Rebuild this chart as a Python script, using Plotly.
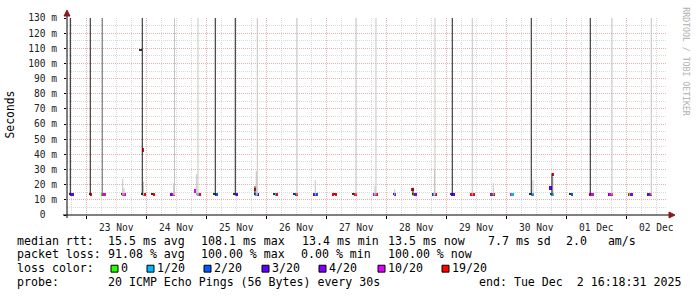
import plotly.graph_objects as go
from datetime import datetime, timedelta

# ---------------- data ----------------
START = "2025-11-22 16:18:31"
END = "2025-12-02 16:18:31"

# one entry per sampling burst: time of first column, median rtt (ms), loss codes per column
# loss codes: 0 -> 0, 1 -> 1/20, 2 -> 2/20, 3 -> 3/20, 4 -> 4/20, a -> 10/20, j -> 19/20, k -> unknown/dark
event_time = [
    "2025-11-22 17:28", "2025-11-23 01:28", "2025-11-23 06:16", "2025-11-23 14:16",
    "2025-11-23 22:32", "2025-11-24 02:32", "2025-11-24 10:08", "2025-11-24 20:20",
    "2025-11-25 03:20", "2025-11-25 11:20", "2025-11-25 19:37", "2025-11-26 03:20",
    "2025-11-26 11:20", "2025-11-26 19:20", "2025-11-27 02:56", "2025-11-27 10:56",
    "2025-11-27 19:04", "2025-11-28 03:04", "2025-11-28 10:40", "2025-11-28 18:49",
    "2025-11-29 02:01", "2025-11-29 10:08", "2025-11-29 18:01", "2025-11-30 02:01",
    "2025-11-30 09:44", "2025-11-30 18:01", "2025-12-01 01:44", "2025-12-01 09:28",
    "2025-12-01 17:13", "2025-12-02 01:04", "2025-12-02 08:56",
]
event_median = [13.6, 13.6, 13.8, 13.6, 13.6, 13.6, 13.6, 13.6,
                13.6, 13.6, 13.6, 13.6, 13.6, 13.6, 13.6, 13.6,
                13.6, 13.6, 13.6, 13.6, 13.6, 13.6, 13.6, 13.6,
                13.6, 13.6, 13.6, 13.6, 13.6, 13.6, 13.6]
event_loss = ["k23", "kj", "0ja", "kja", "k1j", "kj", "3aj", "k1j",
              "k22", "k13", "k13", "k1j", "k2j", "322", "jkj", "kjj",
              "a1j", "k3", "k04", "31j", "k33", "jaj", "j2j", "a1",
              "k12", "k1", "k2", "jaa", "3aj", "j04", "32j"]

# isolated median points that stand apart from the baseline
extra_time = ["2025-11-23 21:47", "2025-11-23 22:47", "2025-11-24 19:37", "2025-11-25 19:28",
              "2025-11-28 10:38", "2025-11-30 17:50", "2025-11-30 18:49"]
extra_median = [108.1, 43.0, 16.0, 17.0, 17.0, 18.0, 27.0]
extra_loss = ["k", "j", "a", "j", "j", "3", "j"]

# smoke: pings far above the median (values above 130 ms run off the top)
smoke_dark_time = ["2025-11-22 17:38", "2025-11-23 01:37", "2025-11-23 22:25", "2025-11-25 03:37",
                   "2025-11-25 11:37", "2025-11-29 02:25", "2025-11-30 10:01", "2025-12-01 09:37",
                   "2025-11-25 19:30", "2025-11-28 10:42", "2025-11-30 18:18"]
smoke_dark_hi = [250, 250, 250, 250, 250, 250, 250, 250, 19, 18, 27.5]
smoke_mid_time = ["2025-11-23 06:25"]
smoke_mid_hi = [250]
smoke_light_time = ["2025-11-24 11:18", "2025-11-24 20:42", "2025-11-25 20:25", "2025-11-26 12:18",
                    "2025-11-27 11:54", "2025-11-27 19:54", "2025-11-28 19:30", "2025-11-29 10:25",
                    "2025-12-01 18:18", "2025-12-02 10:01",
                    "2025-11-23 14:35", "2025-11-23 15:06", "2025-11-23 22:54", "2025-11-24 10:59",
                    "2025-11-24 20:11", "2025-11-25 20:01", "2025-11-26 19:37", "2025-11-27 19:30",
                    "2025-11-28 03:23", "2025-11-28 19:18", "2025-11-29 18:49", "2025-11-30 10:42",
                    "2025-11-30 18:42"]
smoke_light_hi = [250, 250, 250, 250, 250, 250, 250, 250, 250, 250,
                  24, 18, 22, 21, 27, 29, 23, 19, 17, 30, 21, 23, 25]
smoke_lo = 13.0

loss_codes = ["0", "1", "2", "3", "4", "a", "j"]
loss_names = ["0", "1/20", "2/20", "3/20", "4/20", "10/20", "19/20"]

y_ticks = [0, 10, 20, 30, 40, 50, 60, 70, 80, 90, 100, 110, 120, 130]
y_tick_labels = ["0\u00a0\u00a0", "10 m", "20 m", "30 m", "40 m", "50 m", "60 m", "70 m",
                 "80 m", "90 m", "100 m", "110 m", "120 m", "130 m"]

stats_rtt = ["median rtt:", "15.5 ms avg", "108.1 ms max", "13.4 ms min", "13.5 ms now",
             "7.7 ms sd", "2.0   am/s"]
stats_loss = ["packet loss:", "91.08 % avg", "100.00 % max", "0.00 % min", "100.00 % now"]
probe_text = ["probe:", "20 ICMP Echo Pings (56 Bytes) every 30s", "end: Tue Dec  2 16:18:31 2025"]

# ---------------- styles ----------------
COL = {"0": "#26ff00", "1": "#00b8ff", "2": "#0059ff", "3": "#5e00ff", "4": "#7e00ff",
       "a": "#dd00ff", "j": "#ff0000", "k": "#303030"}
MONO = "DejaVu Sans Mono"
STEP = timedelta(minutes=34)
COLW = 40 * 60 * 1000
W, H = 697, 297
L, R, T, B = 67, 30, 15, 82
PW, PH = W - L - R, H - T - B


def px(xp):
    return (xp - L) / PW


def py(yp):
    return (H - B - yp) / PH


def ts(s):
    return datetime.fromisoformat(s)


# decode columns (dark "k" columns are thin ticks, coloured ones are the median line)
med_x, med_y, med_c = [], [], []
dk_x, dk_y = [], []
for t, m, codes in zip(event_time, event_median, event_loss):
    t0 = ts(t)
    for i, ch in enumerate(codes):
        if ch == "k":
            dk_x.append(t0 + i * STEP)
            dk_y.append(m)
        else:
            med_x.append(t0 + i * STEP)
            med_y.append(m)
            med_c.append(COL[ch])
for t, m, ch in zip(extra_time, extra_median, extra_loss):
    if ch == "k":
        dk_x.append(ts(t))
        dk_y.append(m)
    else:
        med_x.append(ts(t))
        med_y.append(m)
        med_c.append(COL[ch])

fig = go.Figure()


def smoke(times, highs, color):
    xs, ys = [], []
    for t, h in zip(times, highs):
        xs += [ts(t), ts(t), None]
        ys += [smoke_lo, h, None]
    fig.add_trace(go.Scatter(x=xs, y=ys, mode="lines", line=dict(color=color, width=1),
                             hoverinfo="skip", connectgaps=False))


smoke(smoke_light_time, smoke_light_hi, "#c4c4c4")
smoke(smoke_mid_time, smoke_mid_hi, "#6a6a6a")
smoke(smoke_dark_time, smoke_dark_hi, "#1a1a1a")

fig.add_trace(go.Bar(
    x=dk_x, y=[0.9] * len(dk_x), base=[v + 0.2 for v in dk_y], width=[COLW] * len(dk_x),
    marker=dict(color=COL["k"], line=dict(width=0)), hoverinfo="skip"))
fig.add_trace(go.Bar(
    x=med_x, y=[2.2] * len(med_x), base=[v - 1.2 for v in med_y], width=[COLW] * len(med_x),
    marker=dict(color=med_c, line=dict(width=0)), hoverinfo="skip"))

fig.update_layout(
    width=W, height=H, margin=dict(l=L, r=R, t=T, b=B),
    paper_bgcolor="white", plot_bgcolor="white", showlegend=False,
    barmode="overlay", bargap=0,
    font=dict(family=MONO, size=10, color="#222"),
    xaxis=dict(
        type="date", range=[START, END], dtick=86400000, tick0="2025-11-23 00:00",
        ticklabelmode="period", tickformat="%d %b",
        showgrid=True, gridcolor="#eab0b0", griddash="1px,1px", gridwidth=1,
        ticks="outside", ticklen=3, tickcolor="#000", zeroline=False, showline=False,
        tickfont=dict(family=MONO, size=9.6, color="#222"),
        minor=dict(dtick=6 * 3600 * 1000, tick0="2025-11-23 00:00", showgrid=True,
                   gridcolor="#dadada", griddash="1px,1px", ticks=""),
    ),
    yaxis=dict(
        range=[0, 130], tickvals=y_ticks, ticktext=y_tick_labels,
        showgrid=True, gridcolor="#eab0b0", griddash="1px,1px", gridwidth=1,
        ticks="outside", ticklen=2, tickcolor="#000", zeroline=False, showline=False,
        ticklabelstandoff=5,
        tickfont=dict(family=MONO, size=9.6, color="#222"),
        minor=dict(dtick=5, showgrid=True, gridcolor="#dadada", griddash="1px,1px", ticks=""),
    ),
)

# axis lines with arrows
shapes = [
    dict(type="line", xref="paper", yref="paper", x0=px(63), x1=px(670), y0=py(215), y1=py(215),
         line=dict(color="#000", width=1)),
    dict(type="line", xref="paper", yref="paper", x0=px(67), x1=px(67), y0=py(218), y1=py(11),
         line=dict(color="#000", width=1)),
    dict(type="path", xref="paper", yref="paper",
         path=f"M {px(669)} {py(212)} L {px(675)} {py(215)} L {px(669)} {py(218)} Z",
         fillcolor="#8b1a1a", line=dict(color="#8b1a1a", width=1)),
    dict(type="path", xref="paper", yref="paper",
         path=f"M {px(64)} {py(13)} L {px(67)} {py(7)} L {px(70)} {py(13)} Z",
         fillcolor="#8b1a1a", line=dict(color="#8b1a1a", width=1)),
]

ann = []
LEG = dict(family=MONO, size=11.6, color="#000")


def text(x, y, s, **kw):
    d = dict(xref="paper", yref="paper", x=px(x), y=py(y), text=s, showarrow=False,
             xanchor="left", yanchor="middle", font=LEG, borderpad=0)
    d.update(kw)
    ann.append(d)


rtt_x = [16, 107, 200, 301, 387, 487, 565]
for x, s in zip(rtt_x, stats_rtt):
    text(x, 241, s.replace(" ", "\u00a0"))
loss_x = [16, 107, 200, 300, 387]
for x, s in zip(loss_x, stats_loss):
    text(x, 255, s.replace(" ", "\u00a0"))
text(16, 269, "loss\u00a0color:")
box_x = [111, 147, 204, 262, 319, 378, 442]
for bx, code, name in zip(box_x, loss_codes, loss_names):
    shapes.append(dict(type="rect", xref="paper", yref="paper", x0=px(bx), x1=px(bx + 7),
                       y0=py(273), y1=py(266), fillcolor=COL[code], line=dict(color="#000", width=1)))
    text(bx + 9, 269, name)
probe_x = [16, 107, 478]
for x, s in zip(probe_x, probe_text):
    text(x, 283, s.replace(" ", "\u00a0"))

ann.append(dict(xref="paper", yref="paper", x=px(10), y=py(113), text="Seconds", showarrow=False,
                textangle=-90, xanchor="center", yanchor="middle",
                font=dict(family=MONO, size=11.4, color="#000")))
ann.append(dict(xref="paper", yref="paper", x=px(686), y=py(59), text="RRDTOOL / TOBI OETIKER",
                showarrow=False, textangle=90, xanchor="center", yanchor="middle",
                font=dict(family=MONO, size=8.2, color="#b0b0b0")))

fig.update_layout(shapes=shapes, annotations=ann)
fig.write_html("out.html")
